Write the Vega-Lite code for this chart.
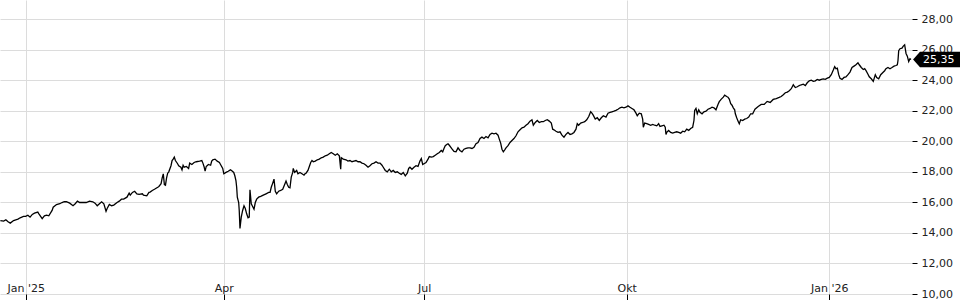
{
  "$schema": "https://vega.github.io/schema/vega-lite/v6.json",
  "width": 912,
  "height": 294,
  "autosize": {"type": "none"},
  "padding": {"left": 0, "top": 0, "right": 48, "bottom": 6},
  "background": "white",
  "config": {"view": {"stroke": null}, "font": "DejaVu Sans"},
  "data": {"values": [
    {"t":"2024-12-20T12:00","v":14.81},{"t":"2024-12-22T00:00","v":14.77},{"t":"2024-12-23T00:00","v":14.86},{"t":"2024-12-24T00:00","v":14.73},{"t":"2024-12-25T00:00","v":14.64},{"t":"2024-12-26T12:00","v":14.81},{"t":"2024-12-27T12:00","v":14.86},{"t":"2024-12-28T12:00","v":14.90},{"t":"2024-12-29T12:00","v":14.99},{"t":"2024-12-31T00:00","v":15.08},
    {"t":"2025-01-01T00:00","v":15.08},{"t":"2025-01-02T00:00","v":15.16},{"t":"2025-01-03T00:00","v":15.03},{"t":"2025-01-04T00:00","v":15.21},{"t":"2025-01-05T00:00","v":15.29},{"t":"2025-01-06T12:00","v":15.36},{"t":"2025-01-07T00:00","v":15.25},{"t":"2025-01-08T12:00","v":14.94},{"t":"2025-01-09T12:00","v":15.12},{"t":"2025-01-10T12:00","v":15.16},{"t":"2025-01-11T12:00","v":15.12},{"t":"2025-01-13T00:00","v":15.47},{"t":"2025-01-13T12:00","v":15.68},{"t":"2025-01-15T00:00","v":15.86},{"t":"2025-01-16T12:00","v":15.91},{"t":"2025-01-17T12:00","v":15.99},{"t":"2025-01-18T12:00","v":16.04},{"t":"2025-01-19T12:00","v":16.04},{"t":"2025-01-21T00:00","v":15.95},{"t":"2025-01-22T12:00","v":15.78},{"t":"2025-01-23T12:00","v":15.91},{"t":"2025-01-24T12:00","v":16.08},{"t":"2025-01-25T12:00","v":15.99},{"t":"2025-01-27T00:00","v":15.99},{"t":"2025-01-28T12:00","v":15.99},{"t":"2025-01-30T00:00","v":16.08},{"t":"2025-01-31T12:00","v":16.04},
    {"t":"2025-02-01T12:00","v":15.95},{"t":"2025-02-02T12:00","v":15.78},{"t":"2025-02-03T12:00","v":15.91},{"t":"2025-02-04T12:00","v":16.04},{"t":"2025-02-05T12:00","v":15.91},{"t":"2025-02-06T12:00","v":15.42},{"t":"2025-02-07T00:00","v":15.60},{"t":"2025-02-08T00:00","v":15.86},{"t":"2025-02-09T00:00","v":15.78},{"t":"2025-02-10T00:00","v":15.82},{"t":"2025-02-11T12:00","v":15.99},{"t":"2025-02-12T12:00","v":16.08},{"t":"2025-02-13T12:00","v":16.21},{"t":"2025-02-14T12:00","v":16.21},{"t":"2025-02-16T00:00","v":16.34},{"t":"2025-02-17T00:00","v":16.60},{"t":"2025-02-17T12:00","v":16.47},{"t":"2025-02-18T12:00","v":16.65},{"t":"2025-02-19T12:00","v":16.73},{"t":"2025-02-20T12:00","v":16.56},{"t":"2025-02-21T12:00","v":16.52},{"t":"2025-02-23T00:00","v":16.56},{"t":"2025-02-23T12:00","v":16.47},{"t":"2025-02-25T00:00","v":16.43},{"t":"2025-02-26T00:00","v":16.65},{"t":"2025-02-26T12:00","v":16.67},{"t":"2025-02-27T12:00","v":16.78},{"t":"2025-02-28T12:00","v":16.86},
    {"t":"2025-03-02T00:00","v":16.99},{"t":"2025-03-02T12:00","v":17.04},{"t":"2025-03-03T12:00","v":17.22},{"t":"2025-03-04T00:00","v":17.61},{"t":"2025-03-04T12:00","v":17.87},{"t":"2025-03-05T00:00","v":17.17},{"t":"2025-03-05T12:00","v":17.13},{"t":"2025-03-06T00:00","v":17.61},{"t":"2025-03-06T12:00","v":17.91},{"t":"2025-03-07T00:00","v":18.00},{"t":"2025-03-08T00:00","v":18.40},{"t":"2025-03-08T12:00","v":18.74},{"t":"2025-03-09T00:00","v":18.83},{"t":"2025-03-09T12:00","v":18.96},{"t":"2025-03-10T00:00","v":18.74},{"t":"2025-03-11T00:00","v":18.53},{"t":"2025-03-11T12:00","v":18.40},{"t":"2025-03-12T12:00","v":18.30},{"t":"2025-03-13T00:00","v":18.13},{"t":"2025-03-13T12:00","v":18.43},{"t":"2025-03-14T00:00","v":18.30},{"t":"2025-03-15T00:00","v":18.35},{"t":"2025-03-16T00:00","v":18.22},{"t":"2025-03-16T12:00","v":18.57},{"t":"2025-03-17T12:00","v":18.48},{"t":"2025-03-18T12:00","v":18.61},{"t":"2025-03-19T12:00","v":18.66},{"t":"2025-03-21T00:00","v":18.70},{"t":"2025-03-22T00:00","v":18.74},{"t":"2025-03-22T12:00","v":18.57},{"t":"2025-03-23T00:00","v":18.35},{"t":"2025-03-23T12:00","v":18.04},{"t":"2025-03-24T00:00","v":18.35},{"t":"2025-03-25T00:00","v":18.48},{"t":"2025-03-26T00:00","v":18.43},{"t":"2025-03-26T12:00","v":18.70},{"t":"2025-03-27T00:00","v":18.79},{"t":"2025-03-28T00:00","v":18.83},{"t":"2025-03-29T00:00","v":18.70},{"t":"2025-03-30T00:00","v":18.61},{"t":"2025-03-30T12:00","v":18.48},{"t":"2025-03-31T12:00","v":18.22},
    {"t":"2025-04-01T00:00","v":17.87},{"t":"2025-04-02T00:00","v":17.96},{"t":"2025-04-03T00:00","v":18.04},{"t":"2025-04-04T00:00","v":18.13},{"t":"2025-04-04T12:00","v":18.09},{"t":"2025-04-05T12:00","v":17.96},{"t":"2025-04-06T00:00","v":17.74},{"t":"2025-04-06T12:00","v":17.43},{"t":"2025-04-06T20:00","v":16.99},{"t":"2025-04-07T03:00","v":16.34},{"t":"2025-04-07T18:00","v":15.99},{"t":"2025-04-08T00:00","v":15.47},{"t":"2025-04-08T08:00","v":14.29},{"t":"2025-04-08T22:00","v":15.03},{"t":"2025-04-09T13:00","v":15.47},{"t":"2025-04-10T04:00","v":15.78},{"t":"2025-04-10T18:00","v":15.60},{"t":"2025-04-11T09:00","v":15.25},{"t":"2025-04-12T00:00","v":14.99},{"t":"2025-04-12T13:00","v":15.03},{"t":"2025-04-12T21:00","v":16.82},{"t":"2025-04-13T11:00","v":15.91},{"t":"2025-04-14T02:00","v":15.73},{"t":"2025-04-14T17:00","v":15.55},{"t":"2025-04-15T07:00","v":15.99},{"t":"2025-04-15T22:00","v":16.21},{"t":"2025-04-16T20:00","v":16.34},{"t":"2025-04-17T18:00","v":16.39},{"t":"2025-04-18T22:00","v":16.47},{"t":"2025-04-20T04:00","v":16.56},{"t":"2025-04-21T09:00","v":16.65},{"t":"2025-04-22T00:00","v":16.65},{"t":"2025-04-22T13:00","v":16.99},{"t":"2025-04-23T05:00","v":17.26},{"t":"2025-04-23T19:00","v":17.52},{"t":"2025-04-24T09:00","v":16.73},{"t":"2025-04-25T00:00","v":16.56},{"t":"2025-04-25T22:00","v":16.73},{"t":"2025-04-26T20:00","v":16.78},{"t":"2025-04-27T18:00","v":16.86},{"t":"2025-04-28T15:00","v":17.17},{"t":"2025-04-29T06:00","v":17.39},{"t":"2025-04-29T20:00","v":17.17},{"t":"2025-04-30T11:00","v":16.99},
    {"t":"2025-05-01T01:00","v":16.95},{"t":"2025-05-01T15:00","v":17.65},{"t":"2025-05-02T07:00","v":17.96},{"t":"2025-05-02T13:00","v":18.22},{"t":"2025-05-03T04:00","v":17.96},{"t":"2025-05-04T02:00","v":18.09},{"t":"2025-05-04T16:00","v":17.87},{"t":"2025-05-05T14:00","v":17.96},{"t":"2025-05-06T12:00","v":17.87},{"t":"2025-05-07T10:00","v":17.78},{"t":"2025-05-07T21:00","v":17.87},{"t":"2025-05-08T08:00","v":17.91},{"t":"2025-05-09T05:00","v":18.09},{"t":"2025-05-09T20:00","v":18.35},{"t":"2025-05-10T11:00","v":18.61},{"t":"2025-05-11T01:00","v":18.74},{"t":"2025-05-11T15:00","v":18.66},{"t":"2025-05-12T13:00","v":18.70},{"t":"2025-05-13T11:00","v":18.79},{"t":"2025-05-14T09:00","v":18.83},{"t":"2025-05-15T06:00","v":18.92},{"t":"2025-05-16T04:00","v":18.96},{"t":"2025-05-17T02:00","v":19.05},{"t":"2025-05-18T00:00","v":19.09},{"t":"2025-05-18T22:00","v":19.18},{"t":"2025-05-19T19:00","v":19.27},{"t":"2025-05-20T17:00","v":19.18},{"t":"2025-05-21T15:00","v":19.09},{"t":"2025-05-22T13:00","v":19.18},{"t":"2025-05-23T11:00","v":19.05},{"t":"2025-05-24T02:00","v":18.17},{"t":"2025-05-24T08:00","v":18.92},{"t":"2025-05-25T06:00","v":18.83},{"t":"2025-05-26T12:00","v":18.79},{"t":"2025-05-27T09:00","v":18.70},{"t":"2025-05-28T07:00","v":18.74},{"t":"2025-05-29T05:00","v":18.66},{"t":"2025-05-30T03:00","v":18.70},{"t":"2025-05-31T01:00","v":18.74},{"t":"2025-05-31T23:00","v":18.66},
    {"t":"2025-06-01T20:00","v":18.66},{"t":"2025-06-02T18:00","v":18.57},{"t":"2025-06-03T16:00","v":18.53},{"t":"2025-06-04T14:00","v":18.43},{"t":"2025-06-05T12:00","v":18.30},{"t":"2025-06-06T09:00","v":18.40},{"t":"2025-06-07T07:00","v":18.53},{"t":"2025-06-08T05:00","v":18.57},{"t":"2025-06-09T03:00","v":18.66},{"t":"2025-06-10T01:00","v":18.57},{"t":"2025-06-10T23:00","v":18.57},{"t":"2025-06-11T20:00","v":18.43},{"t":"2025-06-12T10:00","v":18.30},{"t":"2025-06-13T08:00","v":18.09},{"t":"2025-06-14T06:00","v":18.00},{"t":"2025-06-15T04:00","v":18.17},{"t":"2025-06-16T01:00","v":18.00},{"t":"2025-06-16T23:00","v":18.09},{"t":"2025-06-17T21:00","v":17.96},{"t":"2025-06-18T19:00","v":18.00},{"t":"2025-06-19T17:00","v":17.91},{"t":"2025-06-20T14:00","v":17.83},{"t":"2025-06-21T12:00","v":17.96},{"t":"2025-06-22T10:00","v":17.74},{"t":"2025-06-23T08:00","v":17.91},{"t":"2025-06-23T23:00","v":18.22},{"t":"2025-06-24T13:00","v":18.30},{"t":"2025-06-25T11:00","v":18.17},{"t":"2025-06-26T09:00","v":18.30},{"t":"2025-06-27T07:00","v":18.40},{"t":"2025-06-28T05:00","v":18.35},{"t":"2025-06-29T02:00","v":18.70},{"t":"2025-06-29T17:00","v":18.87},{"t":"2025-06-30T08:00","v":18.48},{"t":"2025-06-30T22:00","v":18.53},
    {"t":"2025-07-01T20:00","v":18.61},{"t":"2025-07-02T18:00","v":18.83},{"t":"2025-07-03T08:00","v":19.00},{"t":"2025-07-04T06:00","v":18.96},{"t":"2025-07-05T03:00","v":19.00},{"t":"2025-07-06T01:00","v":19.09},{"t":"2025-07-06T23:00","v":19.18},{"t":"2025-07-07T21:00","v":19.27},{"t":"2025-07-08T18:00","v":19.40},{"t":"2025-07-09T10:00","v":19.31},{"t":"2025-07-10T00:00","v":19.53},{"t":"2025-07-10T14:00","v":19.71},{"t":"2025-07-11T06:00","v":19.79},{"t":"2025-07-11T20:00","v":19.84},{"t":"2025-07-12T10:00","v":19.74},{"t":"2025-07-13T01:00","v":19.62},{"t":"2025-07-13T15:00","v":19.50},{"t":"2025-07-14T13:00","v":19.33},{"t":"2025-07-15T11:00","v":19.31},{"t":"2025-07-16T09:00","v":19.57},{"t":"2025-07-17T06:00","v":19.40},{"t":"2025-07-18T04:00","v":19.31},{"t":"2025-07-19T02:00","v":19.48},{"t":"2025-07-20T00:00","v":19.53},{"t":"2025-07-20T22:00","v":19.57},{"t":"2025-07-21T19:00","v":19.57},{"t":"2025-07-22T17:00","v":19.53},{"t":"2025-07-23T15:00","v":19.61},{"t":"2025-07-24T13:00","v":19.84},{"t":"2025-07-25T11:00","v":19.92},{"t":"2025-07-26T09:00","v":20.18},{"t":"2025-07-27T06:00","v":20.27},{"t":"2025-07-28T04:00","v":20.18},{"t":"2025-07-29T02:00","v":20.31},{"t":"2025-07-30T00:00","v":20.23},{"t":"2025-07-30T22:00","v":20.45},{"t":"2025-07-31T19:00","v":20.53},
    {"t":"2025-08-01T17:00","v":20.49},{"t":"2025-08-02T15:00","v":20.53},{"t":"2025-08-03T13:00","v":20.40},{"t":"2025-08-04T03:00","v":20.14},{"t":"2025-08-04T18:00","v":19.88},{"t":"2025-08-05T08:00","v":19.48},{"t":"2025-08-05T23:00","v":19.31},{"t":"2025-08-06T14:00","v":19.44},{"t":"2025-08-07T04:00","v":19.57},{"t":"2025-08-08T02:00","v":19.71},{"t":"2025-08-09T00:00","v":19.92},{"t":"2025-08-09T21:00","v":20.05},{"t":"2025-08-10T19:00","v":20.18},{"t":"2025-08-11T17:00","v":20.36},{"t":"2025-08-12T15:00","v":20.62},{"t":"2025-08-13T13:00","v":20.75},{"t":"2025-08-14T11:00","v":20.88},{"t":"2025-08-15T08:00","v":20.92},{"t":"2025-08-16T06:00","v":21.05},{"t":"2025-08-17T04:00","v":21.15},{"t":"2025-08-18T02:00","v":21.32},{"t":"2025-08-18T23:00","v":21.41},{"t":"2025-08-19T14:00","v":21.05},{"t":"2025-08-20T11:00","v":21.23},{"t":"2025-08-21T09:00","v":21.36},{"t":"2025-08-22T07:00","v":21.23},{"t":"2025-08-23T05:00","v":21.28},{"t":"2025-08-24T03:00","v":21.28},{"t":"2025-08-25T00:00","v":21.36},{"t":"2025-08-25T22:00","v":21.41},{"t":"2025-08-26T20:00","v":21.32},{"t":"2025-08-27T18:00","v":21.19},{"t":"2025-08-28T09:00","v":20.79},{"t":"2025-08-28T23:00","v":20.75},{"t":"2025-08-29T21:00","v":20.66},{"t":"2025-08-30T19:00","v":20.58},{"t":"2025-08-31T17:00","v":20.62},
    {"t":"2025-09-01T14:00","v":20.40},{"t":"2025-09-02T12:00","v":20.27},{"t":"2025-09-03T10:00","v":20.45},{"t":"2025-09-04T08:00","v":20.58},{"t":"2025-09-05T06:00","v":20.45},{"t":"2025-09-06T03:00","v":20.49},{"t":"2025-09-07T01:00","v":20.58},{"t":"2025-09-07T23:00","v":20.79},{"t":"2025-09-08T13:00","v":21.15},{"t":"2025-09-09T04:00","v":21.05},{"t":"2025-09-10T02:00","v":21.19},{"t":"2025-09-11T00:00","v":21.23},{"t":"2025-09-11T22:00","v":21.28},{"t":"2025-09-12T20:00","v":21.41},{"t":"2025-09-13T18:00","v":21.62},{"t":"2025-09-14T15:00","v":21.93},{"t":"2025-09-15T05:00","v":21.84},{"t":"2025-09-15T19:00","v":21.71},{"t":"2025-09-16T17:00","v":21.45},{"t":"2025-09-17T15:00","v":21.54},{"t":"2025-09-18T13:00","v":21.36},{"t":"2025-09-19T11:00","v":21.54},{"t":"2025-09-20T09:00","v":21.67},{"t":"2025-09-21T14:00","v":21.58},{"t":"2025-09-22T12:00","v":21.84},{"t":"2025-09-23T10:00","v":21.89},{"t":"2025-09-24T07:00","v":21.93},{"t":"2025-09-25T05:00","v":21.97},{"t":"2025-09-26T03:00","v":22.02},{"t":"2025-09-27T01:00","v":22.10},{"t":"2025-09-27T23:00","v":22.19},{"t":"2025-09-28T20:00","v":22.23},{"t":"2025-09-29T18:00","v":22.19},{"t":"2025-09-30T16:00","v":22.23},
    {"t":"2025-10-01T14:00","v":22.32},{"t":"2025-10-02T12:00","v":22.23},{"t":"2025-10-03T09:00","v":22.15},{"t":"2025-10-04T07:00","v":22.06},{"t":"2025-10-05T05:00","v":21.84},{"t":"2025-10-05T19:00","v":21.67},{"t":"2025-10-06T17:00","v":21.84},{"t":"2025-10-07T15:00","v":21.80},{"t":"2025-10-08T06:00","v":21.45},{"t":"2025-10-08T13:00","v":20.92},{"t":"2025-10-09T04:00","v":21.19},{"t":"2025-10-10T02:00","v":21.15},{"t":"2025-10-10T23:00","v":21.10},{"t":"2025-10-11T21:00","v":21.05},{"t":"2025-10-12T19:00","v":21.10},{"t":"2025-10-13T17:00","v":21.05},{"t":"2025-10-14T15:00","v":21.01},{"t":"2025-10-15T12:00","v":21.15},{"t":"2025-10-16T03:00","v":20.97},{"t":"2025-10-17T00:00","v":21.01},{"t":"2025-10-17T22:00","v":21.05},{"t":"2025-10-18T12:00","v":20.92},{"t":"2025-10-18T20:00","v":20.45},{"t":"2025-10-19T04:00","v":20.58},{"t":"2025-10-20T01:00","v":20.71},{"t":"2025-10-20T23:00","v":20.58},{"t":"2025-10-21T21:00","v":20.53},{"t":"2025-10-22T19:00","v":20.58},{"t":"2025-10-23T17:00","v":20.62},{"t":"2025-10-24T15:00","v":20.58},{"t":"2025-10-25T12:00","v":20.53},{"t":"2025-10-26T10:00","v":20.66},{"t":"2025-10-27T08:00","v":20.62},{"t":"2025-10-28T06:00","v":20.79},{"t":"2025-10-29T04:00","v":20.71},{"t":"2025-10-30T01:00","v":20.84},{"t":"2025-10-30T23:00","v":20.92},{"t":"2025-10-31T13:00","v":21.36},{"t":"2025-10-31T21:00","v":22.02},
    {"t":"2025-11-01T11:00","v":22.15},{"t":"2025-11-02T01:00","v":21.80},{"t":"2025-11-02T17:00","v":22.06},{"t":"2025-11-03T07:00","v":21.89},{"t":"2025-11-04T05:00","v":21.80},{"t":"2025-11-05T02:00","v":21.93},{"t":"2025-11-06T00:00","v":21.97},{"t":"2025-11-06T22:00","v":22.10},{"t":"2025-11-07T20:00","v":22.15},{"t":"2025-11-08T18:00","v":22.23},{"t":"2025-11-09T15:00","v":22.19},{"t":"2025-11-10T13:00","v":22.06},{"t":"2025-11-11T11:00","v":22.41},{"t":"2025-11-12T01:00","v":22.59},{"t":"2025-11-12T23:00","v":22.76},{"t":"2025-11-13T21:00","v":22.89},{"t":"2025-11-14T12:00","v":23.02},{"t":"2025-11-15T10:00","v":22.93},{"t":"2025-11-16T00:00","v":22.89},{"t":"2025-11-16T14:00","v":22.76},{"t":"2025-11-17T06:00","v":22.46},{"t":"2025-11-17T20:00","v":22.36},{"t":"2025-11-18T10:00","v":22.19},{"t":"2025-11-19T01:00","v":22.06},{"t":"2025-11-19T08:00","v":21.80},{"t":"2025-11-19T23:00","v":21.54},{"t":"2025-11-20T13:00","v":21.32},{"t":"2025-11-21T03:00","v":21.15},{"t":"2025-11-21T18:00","v":21.41},{"t":"2025-11-22T16:00","v":21.36},{"t":"2025-11-23T14:00","v":21.45},{"t":"2025-11-24T12:00","v":21.49},{"t":"2025-11-25T10:00","v":21.58},{"t":"2025-11-26T07:00","v":21.80},{"t":"2025-11-27T05:00","v":21.80},{"t":"2025-11-27T19:00","v":21.97},{"t":"2025-11-28T06:00","v":22.10},{"t":"2025-11-29T17:00","v":22.28},
    {"t":"2025-12-01T02:00","v":22.41},{"t":"2025-12-02T11:00","v":22.41},{"t":"2025-12-03T19:00","v":22.61},{"t":"2025-12-05T04:00","v":22.54},{"t":"2025-12-06T13:00","v":22.74},{"t":"2025-12-07T22:00","v":22.80},{"t":"2025-12-09T06:00","v":22.87},{"t":"2025-12-10T04:00","v":22.93},{"t":"2025-12-11T03:00","v":23.05},{"t":"2025-12-12T01:00","v":23.18},{"t":"2025-12-12T23:00","v":23.22},{"t":"2025-12-13T20:00","v":23.31},{"t":"2025-12-14T18:00","v":23.44},{"t":"2025-12-15T16:00","v":23.70},{"t":"2025-12-16T14:00","v":23.52},{"t":"2025-12-17T12:00","v":23.57},{"t":"2025-12-18T09:00","v":23.65},{"t":"2025-12-19T07:00","v":23.70},{"t":"2025-12-20T05:00","v":23.74},{"t":"2025-12-21T03:00","v":23.65},{"t":"2025-12-22T00:00","v":23.83},{"t":"2025-12-22T22:00","v":23.96},{"t":"2025-12-23T20:00","v":24.00},{"t":"2025-12-24T18:00","v":23.92},{"t":"2025-12-25T16:00","v":23.96},{"t":"2025-12-26T13:00","v":24.05},{"t":"2025-12-27T11:00","v":24.00},{"t":"2025-12-28T09:00","v":24.05},{"t":"2025-12-29T07:00","v":24.09},{"t":"2025-12-30T05:00","v":24.05},{"t":"2025-12-31T03:00","v":24.13},
    {"t":"2026-01-01T00:00","v":24.18},{"t":"2026-01-01T22:00","v":24.36},{"t":"2026-01-02T20:00","v":24.66},{"t":"2026-01-03T11:00","v":24.88},{"t":"2026-01-04T01:00","v":24.75},{"t":"2026-01-04T16:00","v":24.79},{"t":"2026-01-05T07:00","v":24.36},{"t":"2026-01-05T21:00","v":24.13},{"t":"2026-01-06T19:00","v":24.05},{"t":"2026-01-07T17:00","v":24.18},{"t":"2026-01-08T14:00","v":24.22},{"t":"2026-01-09T12:00","v":24.36},{"t":"2026-01-10T10:00","v":24.53},{"t":"2026-01-11T08:00","v":24.83},{"t":"2026-01-12T06:00","v":24.92},{"t":"2026-01-13T03:00","v":25.01},{"t":"2026-01-14T01:00","v":25.14},{"t":"2026-01-14T15:00","v":25.01},{"t":"2026-01-15T13:00","v":24.83},{"t":"2026-01-16T11:00","v":24.70},{"t":"2026-01-17T02:00","v":24.75},{"t":"2026-01-17T17:00","v":24.62},{"t":"2026-01-18T14:00","v":24.39},{"t":"2026-01-19T04:00","v":24.22},{"t":"2026-01-20T02:00","v":24.09},{"t":"2026-01-21T00:00","v":23.92},{"t":"2026-01-21T22:00","v":24.36},{"t":"2026-01-22T13:00","v":24.18},{"t":"2026-01-23T11:00","v":24.09},{"t":"2026-01-24T09:00","v":24.36},{"t":"2026-01-25T06:00","v":24.49},{"t":"2026-01-26T04:00","v":24.62},{"t":"2026-01-26T18:00","v":24.75},{"t":"2026-01-27T16:00","v":24.83},{"t":"2026-01-28T14:00","v":24.75},{"t":"2026-01-29T12:00","v":24.83},{"t":"2026-01-30T10:00","v":24.92},{"t":"2026-01-31T07:00","v":24.96},{"t":"2026-01-31T22:00","v":25.01},
    {"t":"2026-02-01T05:00","v":25.27},{"t":"2026-02-01T13:00","v":25.93},{"t":"2026-02-02T03:00","v":26.06},{"t":"2026-02-03T01:00","v":26.10},{"t":"2026-02-03T15:00","v":26.23},{"t":"2026-02-04T06:00","v":26.32},{"t":"2026-02-04T21:00","v":25.75},{"t":"2026-02-05T11:00","v":25.57},{"t":"2026-02-06T02:00","v":25.22},{"t":"2026-02-06T16:00","v":25.40},{"t":"2026-02-07T03:00","v":25.35}
  ]},
  "encoding": {
    "x": {
      "field": "t", "type": "temporal", "title": null,
      "scale": {"domain": [{"year": 2024, "month": 12, "date": 20, "hours": 8}, {"year": 2026, "month": 2, "date": 7, "hours": 14}]},
      "axis": {
        "values": [{"year": 2025, "month": 1, "date": 1}, {"year": 2025, "month": 4, "date": 1}, {"year": 2025, "month": 7, "date": 1}, {"year": 2025, "month": 10, "date": 1}, {"year": 2026, "month": 1, "date": 1}],
        "labelExpr": "month(datum.value) == 0 ? \"Jan '\" + timeFormat(datum.value, '%y') : month(datum.value) == 3 ? 'Apr' : month(datum.value) == 6 ? 'Jul' : 'Okt'",
        "grid": true, "gridColor": "#dcdcdc", "gridWidth": 1,
        "domain": false, "ticks": true, "tickColor": "#000000", "tickSize": 6, "tickWidth": 1,
        "labelBaseline": "alphabetic", "labelPadding": -9, "labelFlush": false, "labelOverlap": false,
        "labelFont": "DejaVu Sans", "labelFontSize": 11, "labelColor": "#222222"
      }
    },
    "y": {
      "field": "v", "type": "quantitative", "title": null,
      "scale": {"domain": [10, 29.25], "nice": false, "zero": false},
      "axis": {
        "orient": "right",
        "values": [10, 12, 14, 16, 18, 20, 22, 24, 26, 28],
        "labelExpr": "replace(format(datum.value, '.2f'), '.', ',')",
        "grid": true, "gridColor": "#dcdcdc", "gridWidth": 1,
        "domain": false, "ticks": true, "tickColor": "#000000", "tickSize": 5, "tickWidth": 1,
        "labelPadding": 4, "labelFont": "DejaVu Sans", "labelFontSize": 11, "labelColor": "#222222"
      }
    }
  },
  "layer": [
    {"mark": {"type": "line", "color": "#000000", "strokeWidth": 1.3, "clip": true}},
    {
      "data": {"values": [{"t": "2026-02-07T03:00", "v": 25.35, "label": "25,35"}]},
      "layer": [
        {"mark": {"type": "point", "shape": "M0.07,0L0.3,-0.26L2,-0.26L2,0.26L0.3,0.26Z", "size": 3600, "filled": true, "fill": "#000000", "color": "#000000", "opacity": 1, "strokeWidth": 0}},
        {"mark": {"type": "text", "align": "left", "baseline": "middle", "dx": 12, "color": "#ffffff", "font": "DejaVu Sans", "fontSize": 11}, "encoding": {"text": {"field": "label"}}}
      ]
    }
  ]
}
